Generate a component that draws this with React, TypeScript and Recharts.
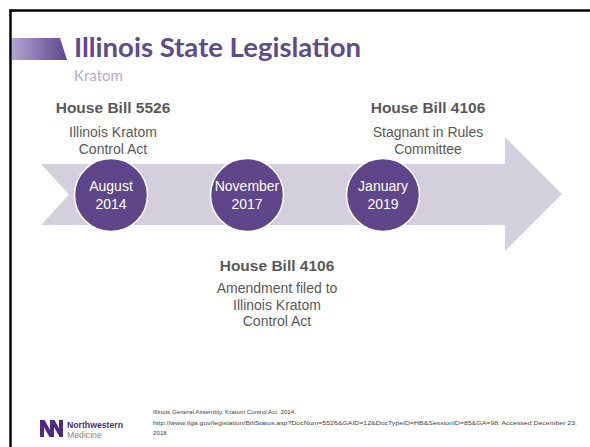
import React from "react";
import { ScatterChart, Scatter, XAxis, YAxis } from "recharts";

// timeline milestones, left to right
const months = ["August", "November", "January"];
const years = ["2014", "2017", "2019"];
const bills = ["House Bill 5526", "House Bill 4106", "House Bill 4106"];
const notes = [
  ["Illinois Kratom", "Control Act"],
  ["Amendment filed to", "Illinois Kratom", "Control Act"],
  ["Stagnant in Rules", "Committee"],
];
const sides = ["above", "below", "above"];

const citation = [
  "Illinois General Assembly. Kratom Control Act. 2014.",
  "http://www.ilga.gov/legislation/BillStatus.asp?DocNum=5526&GAID=12&DocTypeID=HB&SessionID=85&GA=98. Accessed December 23,",
  "2018",
];

const data = months.map((m, i) => ({
  step: i,
  level: 0,
  month: m,
  year: years[i],
  bill: bills[i],
  note: notes[i],
  side: sides[i],
}));

const PURPLE = "#5F4589";
const GREY_TEXT = "#595959";
const FONT = '"Liberation Sans", Arial, sans-serif';
// horizontal nudge of each caption block from its circle
const captionShift = [2, 30, 45];

function Milestone(props: any) {
  const { cx, cy, payload } = props;
  const r = 36.5;
  const x = cx + captionShift[payload.step];
  const above = payload.side === "above";
  const titleY = above ? cy - 82 : cy + 76;
  const lineY0 = above ? cy - 58 : cy + 98;
  return (
    <g>
      <circle cx={cx} cy={cy} r={r} fill={PURPLE} stroke="#fff" strokeWidth={1.5} />
      <text x={cx} y={cy - 4} textAnchor="middle" fill="#fff" fontSize={14} fontFamily={FONT}>
        {payload.month}
      </text>
      <text x={cx} y={cy + 14} textAnchor="middle" fill="#fff" fontSize={14} fontFamily={FONT}>
        {payload.year}
      </text>
      <text x={x} y={titleY} textAnchor="middle" fill={GREY_TEXT} fontSize={15.5} fontWeight="bold" fontFamily={FONT}>
        {payload.bill}
      </text>
      {payload.note.map((line: string, k: number) => (
        <text key={k} x={x} y={lineY0 + k * 16.5} textAnchor="middle" fill={GREY_TEXT} fontSize={14} fontFamily={FONT}>
          {line}
        </text>
      ))}
    </g>
  );
}

export default function App() {
  return (
    <div
      style={{
        position: "fixed",
        left: 0,
        top: 0,
        width: 590,
        height: 447,
        background: "#fff",
        overflow: "hidden",
      }}
    >
      <svg width={590} height={447} style={{ position: "absolute", left: 0, top: 0 }}>
        <defs>
          <linearGradient id="titleBar" x1="0" x2="1" y1="0" y2="0">
            <stop offset="0" stopColor="#B2A6D0" />
            <stop offset="1" stopColor="#5E4590" />
          </linearGradient>
        </defs>
        <line x1={9.5} y1={10.5} x2={590} y2={10.5} stroke="#000" strokeWidth={2.5} />
        <line x1={10.5} y1={9.5} x2={10.5} y2={447} stroke="#000" strokeWidth={2.5} />
        <polygon points="12,38 60,38 67,60 12,60" fill="url(#titleBar)" />
        <text x={74} y={57} fill="#5F4B8B" fontSize={27.5} fontWeight="bold" fontFamily="Lato, 'Open Sans', sans-serif">
          Illinois State Legislation
        </text>
        <text x={74} y={81} fill="#B5ABD5" fontSize={15} fontFamily="Lato, 'Open Sans', sans-serif">
          Kratom
        </text>
        {/* timeline arrow */}
        <polygon
          points="41,164 505,164 505,137 562,194 505,251 505,225 41,225 69,194.5"
          fill="#D3CFDD"
        />
        {/* footer logo */}
        <polygon points="40,420 44,420 44,437 40,437" fill="#4E2A84" />
        <polygon points="40,420 44.5,420 54,437 49.5,437" fill="#4E2A84" />
        <polygon points="50,420 54,420 54,437 50,437" fill="#4E2A84" />
        <polygon points="50,420 54.5,420 60.5,431 58.5,435" fill="#4E2A84" />
        <polygon points="59,420 63,420 63,437 59,437" fill="#4E2A84" />
        <text x={67} y={427.5} fill="#4E2A84" fontSize={8.7} fontWeight="bold" fontFamily={FONT}>
          Northwestern
        </text>
        <text x={67} y={438} fill="#8A8A8A" fontSize={8.7} fontFamily={FONT}>
          Medicine
        </text>
        <text x={153} y={414} fill="#444" fontSize={6.2} fontFamily={FONT}>
          {citation[0]}
        </text>
        <text x={153} y={424.5} fill="#444" fontSize={6.2} fontFamily={FONT} textLength={424} lengthAdjust="spacingAndGlyphs">
          {citation[1]}
        </text>
        <text x={153} y={435} fill="#444" fontSize={6.2} fontFamily={FONT}>
          {citation[2]}
        </text>
      </svg>
      <div style={{ position: "absolute", left: 0, top: 0 }}>
        <ScatterChart width={590} height={447} margin={{ top: 159, bottom: 216, left: 43, right: 139 }}>
          <XAxis type="number" dataKey="step" domain={[-0.5, 2.5]} hide />
          <YAxis type="number" dataKey="level" domain={[-1, 1]} hide />
          <Scatter data={data} shape={Milestone} isAnimationActive={false} />
        </ScatterChart>
      </div>
    </div>
  );
}
